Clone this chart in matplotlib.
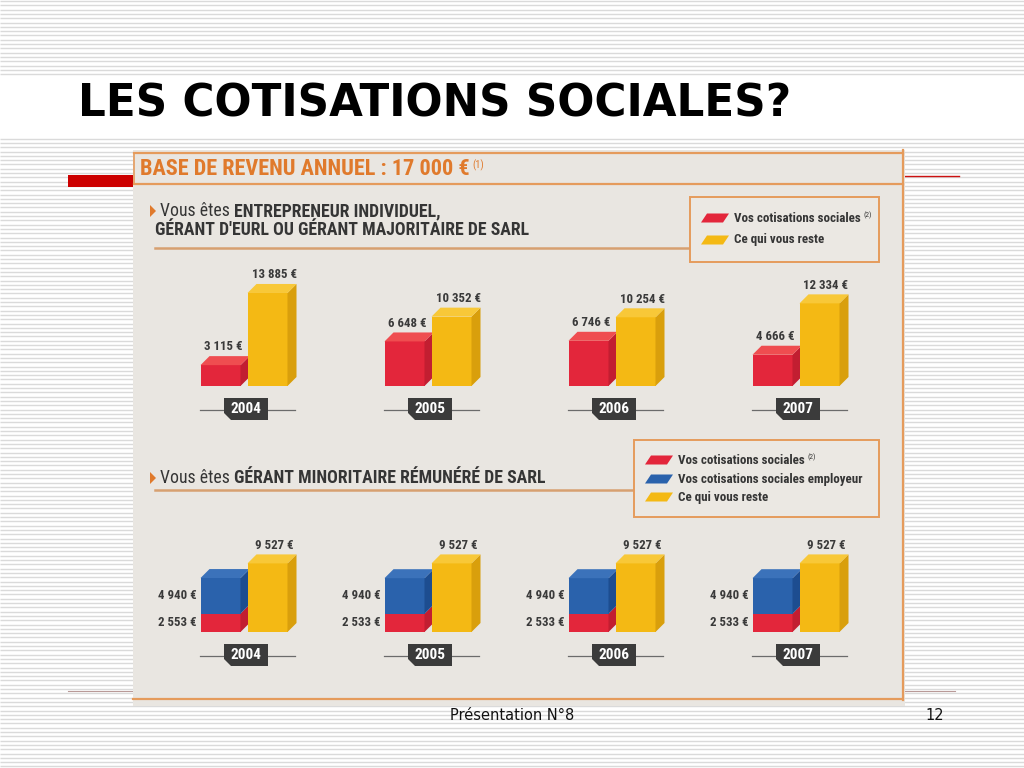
import numpy as np
import matplotlib
matplotlib.use("Agg")
import matplotlib.pyplot as plt
from matplotlib import font_manager
from matplotlib.patches import Polygon, Rectangle

# -------------------------------------------------------------------------
# Données (lues sur l'infographie)
# -------------------------------------------------------------------------
ANNEES = ["2004", "2005", "2006", "2007"]

# Entrepreneur individuel / gérant majoritaire
COTIS_EI = [3115, 6648, 6746, 4666]
RESTE_EI = [13885, 10352, 10254, 12334]

# Gérant minoritaire rémunéré
COTIS_GM = [2553, 2533, 2533, 2533]
EMPLOYEUR_GM = [4940, 4940, 4940, 4940]
RESTE_GM = [9527, 9527, 9527, 9527]

TITRE = "LES COTISATIONS SOCIALES?"
BASE_REVENU = "BASE DE REVENU ANNUEL : 17 000 €"
LEGENDE_EI = ["Vos cotisations sociales", "Ce qui vous reste"]
LEGENDE_GM = ["Vos cotisations sociales", "Vos cotisations sociales employeur",
              "Ce qui vous reste"]
PIED = "Présentation N°8"
NUM_PAGE = "12"

# couleurs : (face, dessus, côté)
ROUGE = ("#e3263b", "#ef4d50", "#c21e31")
JAUNE = ("#f4b914", "#f8c838", "#d99f0c")
BLEU = ("#2a62ac", "#3b72ba", "#1d4d90")
ORANGE = "#e07a2c"
BORD = "#e59b5c"
GRIS_TXT = "#353535"

# -------------------------------------------------------------------------
# Police condensée si disponible
# -------------------------------------------------------------------------
noms = {f.name for f in font_manager.fontManager.ttflist}
COND = "DejaVu Sans"
for n in ["Roboto Condensed", "Open Sans Condensed", "Liberation Sans Narrow",
          "DejaVu Sans Condensed"]:
    if n in noms:
        COND = n
        break
FC = dict(family=COND, fontstretch="condensed")

W, H = 1024, 768
fig = plt.figure(figsize=(W / 100, H / 100), dpi=100)

# -------------------------------------------------------------------------
# Fond de la diapositive (coordonnées en pixels)
# -------------------------------------------------------------------------
slide = fig.add_axes([0, 0, 1, 1])
slide.set_xlim(0, W)
slide.set_ylim(H, 0)
slide.axis("off")

ys = np.arange(1.0, H, 4.3)
ys = ys[(ys < 75) | (ys > 138)]
slide.hlines(ys, 0, W, color="#dadada", lw=1.0, zorder=0)

slide.text(78, 104, TITRE, fontsize=31.4, weight="bold", color="black",
           va="center", ha="left", family="DejaVu Sans")

slide.add_patch(Rectangle((68, 175), 70, 12, fc="#cc0000", ec="none", zorder=1))
slide.plot([905, 959], [175.5, 175.5], color="#cc1111", lw=1.0, zorder=1)
slide.plot([68, 955], [691, 691], color="#b99a98", lw=0.8, zorder=1)

slide.text(512, 716, PIED, fontsize=10.5, ha="center", va="center", color="#111111")
slide.text(935, 716, NUM_PAGE, fontsize=10.5, ha="center", va="center", color="#111111")

# panneau "magazine"
slide.add_patch(Rectangle((133, 150), 772, 556, fc="#e9e6e1", ec="none", zorder=2))
slide.plot([134, 903], [153, 153], color=BORD, lw=1.6, zorder=3)
slide.plot([134, 903], [183.5, 183.5], color=BORD, lw=1.6, zorder=3)
slide.plot([134, 134], [153, 183.5], color=BORD, lw=1.2, zorder=3)
slide.plot([903, 903], [150, 700], color=BORD, lw=1.6, zorder=3)
slide.plot([133, 903], [699, 699], color=BORD, lw=1.6, zorder=3)

t = slide.text(140, 169, BASE_REVENU, fontsize=16, weight="bold", color=ORANGE,
               va="center", ha="left", zorder=4, **FC)
slide.annotate("(1)", xy=(1, 1), xycoords=t, xytext=(2, -1), textcoords="offset points",
               fontsize=7.5, color=ORANGE, va="top", ha="left", zorder=4, **FC)


def fleche(x, y):
    slide.add_patch(Polygon([(x, y - 6), (x, y + 6), (x + 6, y)], closed=True,
                            fc=ORANGE, ec="none", zorder=4))


def ligne_mixte(x, y, normal, gras, size=12.8):
    a = slide.text(x, y, normal, fontsize=size, color=GRIS_TXT, va="center",
                   ha="left", zorder=4, **FC)
    slide.annotate(gras, xy=(1, 0.5), xycoords=a, xytext=(3, 0),
                   textcoords="offset points", fontsize=size, weight="bold",
                   color=GRIS_TXT, va="center", ha="left", zorder=4, **FC)


fleche(150, 211)
ligne_mixte(160, 211, "Vous êtes", "ENTREPRENEUR INDIVIDUEL,")
slide.text(155, 230, "GÉRANT D'EURL OU GÉRANT MAJORITAIRE DE SARL", fontsize=12.8,
           weight="bold", color=GRIS_TXT, va="center", ha="left", zorder=4, **FC)
slide.plot([155, 690], [248, 248], color="#d7a070", lw=1.8, zorder=3)

fleche(150, 478)
ligne_mixte(160, 478, "Vous êtes", "GÉRANT MINORITAIRE RÉMUNÉRÉ DE SARL")
slide.plot([155, 634], [490, 490], color="#d7a070", lw=1.8, zorder=3)


def legende(x0, y0, x1, y1, labels, couleurs, rows):
    slide.add_patch(Rectangle((x0, y0), x1 - x0, y1 - y0, fc="#ebe8e3", ec=BORD,
                              lw=1.4, zorder=4))
    for lab, col, yy in zip(labels, couleurs, rows):
        sx = x0 + 11
        slide.add_patch(Polygon([(sx, yy + 4.5), (sx + 6, yy - 4.5), (sx + 28, yy - 4.5),
                                 (sx + 22, yy + 4.5)], closed=True, fc=col[0],
                                ec="none", zorder=5))
        tt = slide.text(sx + 33, yy, lab, fontsize=9.4, weight="bold", color=GRIS_TXT,
                        va="center", ha="left", zorder=5, **FC)
        if lab == "Vos cotisations sociales":
            slide.annotate("(2)", xy=(1, 1), xycoords=tt, xytext=(2, 0),
                           textcoords="offset points", fontsize=5.5, color=GRIS_TXT,
                           va="top", ha="left", zorder=5, **FC)


legende(690, 197, 879, 262, LEGENDE_EI, [ROUGE, JAUNE], [218, 240])
legende(634, 440, 879, 517, LEGENDE_GM, [ROUGE, BLEU, JAUNE], [460, 479, 497])

# -------------------------------------------------------------------------
# Graphiques en barres 3D
# -------------------------------------------------------------------------
DEPTH = 9       # profondeur 3D (px)
BAR_W = 40      # largeur barre (px)
OFF = 23.5      # décalage des barres par rapport au centre du groupe (px)


def axes_px(left, top, width, height, ylim):
    ax = fig.add_axes([left / W, 1 - (top + height) / H, width / W, height / H])
    ax.set_xlim(-0.5, len(ANNEES) - 0.5)
    ax.set_ylim(*ylim)
    ax.axis("off")
    ax.kx = len(ANNEES) / width
    ax.ky = (ylim[1] - ylim[0]) / height
    return ax


def barre(ax, x, h, bottom, couleurs, z, dessus=True):
    r = ax.bar(x, h, BAR_W * ax.kx, bottom=bottom, color=couleurs[0],
               linewidth=0, zorder=z)[0]
    x0, y0 = r.get_x(), r.get_y()
    x1, y1 = x0 + r.get_width(), y0 + r.get_height()
    dx, dy = DEPTH * ax.kx, DEPTH * ax.ky
    ax.add_patch(Polygon([(x1, y0), (x1 + dx, y0 + dy), (x1 + dx, y1 + dy), (x1, y1)],
                         closed=True, fc=couleurs[2], ec="none", zorder=z))
    if dessus:
        ax.add_patch(Polygon([(x0, y1), (x0 + dx, y1 + dy), (x1 + dx, y1 + dy), (x1, y1)],
                             closed=True, fc=couleurs[1], ec="none", zorder=z))
    return (x0 + x1) / 2 + dx / 2, y1 + dy


def etiquette(v):
    return f"{v:,}".replace(",", " ") + " €"


def annee(ax, i, lab):
    kx, ky = ax.kx, ax.ky
    yl = -24 * ky
    ax.plot([i - 44 * kx, i + 51 * kx], [yl, yl], color="#6b6b6b", lw=0.9, zorder=1)
    bx0, bx1 = i - 20 * kx, i + 24 * kx
    bt, bb = -12 * ky, -34 * ky
    ax.add_patch(Polygon([(bx0, bt), (bx1, bt), (bx1, bb), (bx0 + 7 * kx, bb),
                          (bx0, bb + 7 * ky)], closed=True, fc="#3b3b3b", ec="none",
                         zorder=2))
    ax.text((bx0 + bx1) / 2, (bt + bb) / 2, lab, color="white", fontsize=11,
            weight="bold", ha="center", va="center", zorder=3, **FC)


LBL = dict(fontsize=9.3, weight="bold", color="#3a3a3a", zorder=20, **FC)

# graphique du haut
ax1 = axes_px(152, 272.1, 736, 154.1, (-6000, 17000))
for i, yr in enumerate(ANNEES):
    xr, yr_top = barre(ax1, i - OFF * ax1.kx, COTIS_EI[i], 0, ROUGE, 5 + 3 * i)
    xj, yj_top = barre(ax1, i + OFF * ax1.kx, RESTE_EI[i], 0, JAUNE, 6 + 3 * i)
    ax1.annotate(etiquette(COTIS_EI[i]), xy=(xr - 2 * ax1.kx, yr_top), xytext=(0, 2),
                 textcoords="offset points", ha="center", va="bottom", **LBL)
    ax1.annotate(etiquette(RESTE_EI[i]), xy=(xj + 2 * ax1.kx, yj_top), xytext=(0, 2),
                 textcoords="offset points", ha="center", va="bottom", **LBL)
    annee(ax1, i, yr)

# graphique du bas
ax2 = axes_px(152, 545.6, 736, 129.6, (-6000, 12000))
for i, yr in enumerate(ANNEES):
    xl = i - OFF * ax2.kx - BAR_W * ax2.kx / 2
    barre(ax2, i - OFF * ax2.kx, COTIS_GM[i], 0, ROUGE, 5 + 4 * i, dessus=False)
    barre(ax2, i - OFF * ax2.kx, EMPLOYEUR_GM[i], COTIS_GM[i], BLEU, 6 + 4 * i)
    xj, yj_top = barre(ax2, i + OFF * ax2.kx, RESTE_GM[i], 0, JAUNE, 7 + 4 * i)
    ax2.annotate(etiquette(RESTE_GM[i]), xy=(xj + 2 * ax2.kx, yj_top), xytext=(0, 2),
                 textcoords="offset points", ha="center", va="bottom", **LBL)
    ax2.annotate(etiquette(EMPLOYEUR_GM[i]), xy=(xl, COTIS_GM[i] + EMPLOYEUR_GM[i] / 2),
                 xytext=(-3, 0), textcoords="offset points", ha="right", va="center", **LBL)
    ax2.annotate(etiquette(COTIS_GM[i]), xy=(xl, COTIS_GM[i] / 2),
                 xytext=(-3, 0), textcoords="offset points", ha="right", va="center", **LBL)
    annee(ax2, i, yr)

fig.savefig("out.png", dpi=100)
